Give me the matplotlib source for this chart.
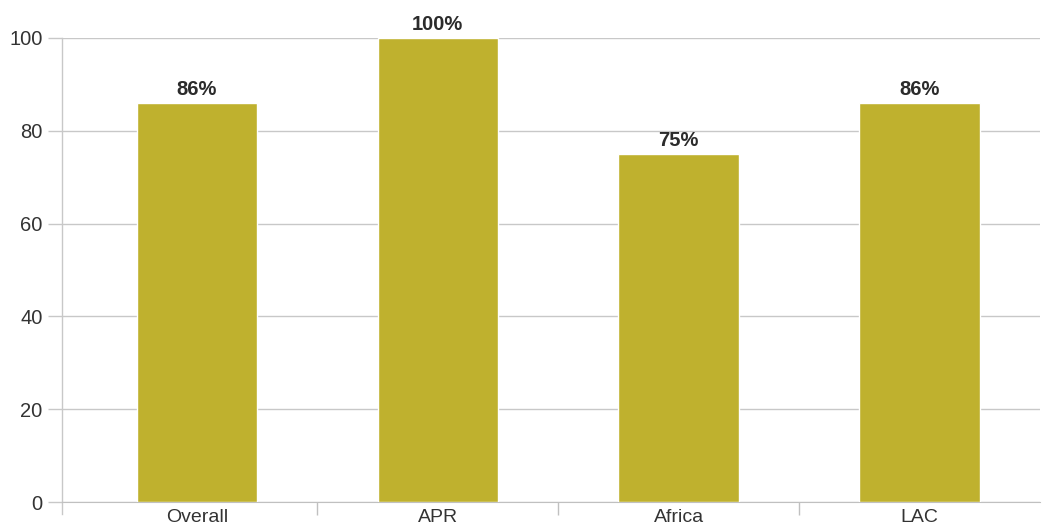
import matplotlib.pyplot as plt
from matplotlib.lines import Line2D
import numpy as np

categories = ["Overall", "APR", "Africa", "LAC"]
values = [86, 100, 75, 86]
labels = ["86%", "100%", "75%", "86%"]

plt.rcParams['font.family'] = ['Liberation Sans', 'DejaVu Sans']

fig = plt.figure(figsize=(10.43, 5.29), dpi=100)
ax = fig.add_axes([62 / 1043, 1 - 502 / 529, (1040 - 62) / 1043, (502 - 38) / 529])

x = np.arange(len(categories))
bars = ax.bar(x, values, width=0.5, color="#BFB12E", edgecolor="white", linewidth=1, zorder=3)

for xi, v, lab in zip(x, values, labels):
    ax.annotate(lab, (xi, v), xytext=(0, 3), textcoords="offset points",
                ha="center", va="bottom", fontsize=14.5, fontweight="bold", color="#2b2b2b")

ax.set_xlim(-0.56, 3.5)
ax.set_ylim(0, 100)
ax.set_yticks([0, 20, 40, 60, 80, 100])
ax.yaxis.grid(True, color="#C8C8C8", linewidth=1, zorder=0)
ax.set_axisbelow(True)

ax.set_xticks(x)
ax.set_xticklabels(categories)
ax.set_xticks([0.5, 1.5, 2.5], minor=True)
ax.tick_params(axis="x", which="major", length=0, pad=5, labelsize=14, labelcolor="#333333")
ax.tick_params(axis="x", which="minor", length=9, color="#C0C0C0", width=1)
ax.tick_params(axis="y", length=10, color="#C8C8C8", width=1, pad=4, labelsize=14.5, labelcolor="#333333")

for s in ["top", "right", "left"]:
    ax.spines[s].set_visible(False)
ax.spines["bottom"].set_color("#C0C0C0")

# left boundary line extends below the axis like a tick
ax.add_line(Line2D([0, 0], [-0.025, 1], transform=ax.transAxes, color="#C8C8C8",
                   linewidth=1, clip_on=False))

fig.savefig("out.png", dpi=100)
